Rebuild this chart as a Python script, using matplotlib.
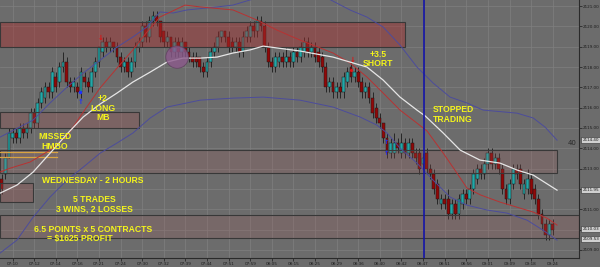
import matplotlib.pyplot as plt
from matplotlib.patches import Rectangle, Ellipse
import numpy as np

# ES 1-min candles, Wednesday session
opens = [2112.50, 2112.75, 2113.50, 2114.50, 2114.75, 2114.50, 2115.00, 2114.75, 2115.00, 2115.75,
         2115.25, 2116.25, 2116.50, 2117.00, 2116.75, 2117.50, 2117.25, 2118.00, 2118.25, 2117.25,
         2117.00, 2117.00, 2116.75, 2117.50, 2117.25, 2117.00, 2117.75, 2118.25, 2118.75, 2119.25,
         2119.00, 2119.25, 2119.00, 2118.50, 2118.00, 2118.25, 2117.75, 2118.25, 2119.00, 2119.25,
         2120.00, 2119.50, 2120.25, 2120.50, 2120.25, 2119.75, 2119.25, 2119.50, 2118.75, 2119.25,
         2118.75, 2119.25, 2118.75, 2118.50, 2118.50, 2118.50, 2118.00, 2117.75, 2118.25, 2118.75,
         2119.00, 2119.50, 2119.75, 2119.50, 2119.25, 2119.00, 2119.25, 2118.75, 2119.50, 2119.50,
         2120.00, 2119.75, 2120.25, 2120.00, 2119.00, 2118.25, 2118.00, 2118.25, 2118.50, 2118.25,
         2118.50, 2118.25, 2118.75, 2118.50, 2118.75, 2119.25, 2118.75, 2119.00, 2118.75, 2118.50,
         2118.00, 2117.00, 2117.25, 2116.75, 2117.00, 2116.75, 2117.25, 2118.00, 2117.50, 2117.75,
         2117.25, 2116.75, 2117.00, 2116.50, 2116.00, 2115.50, 2115.25, 2114.50, 2113.75, 2113.75,
         2114.25, 2113.75, 2114.25, 2113.75, 2114.25, 2113.75, 2113.75, 2113.25, 2113.75, 2113.00,
         2112.75, 2112.25, 2111.25, 2111.50, 2111.50, 2110.75, 2111.25, 2110.75, 2111.25, 2111.75,
         2111.50, 2112.00, 2112.50, 2113.00, 2112.75, 2113.25, 2113.75, 2113.25, 2113.50, 2113.00,
         2112.00, 2111.50, 2112.25, 2113.00, 2113.00, 2111.75, 2112.00, 2112.50, 2112.00, 2111.50,
         2110.75, 2110.25, 2109.75, 2110.25]
closes = [2112.00, 2113.50, 2114.75, 2114.75, 2114.50, 2115.00, 2114.75, 2115.00, 2115.75, 2115.25,
          2116.25, 2116.75, 2117.00, 2116.75, 2117.75, 2117.00, 2118.00, 2118.25, 2117.25, 2117.00,
          2117.25, 2116.75, 2117.75, 2117.25, 2117.00, 2117.75, 2118.25, 2119.00, 2119.25, 2119.00,
          2119.25, 2119.00, 2118.50, 2118.00, 2118.25, 2117.75, 2118.25, 2119.00, 2119.25, 2120.00,
          2119.50, 2120.25, 2120.50, 2120.25, 2119.50, 2119.25, 2119.50, 2118.75, 2119.25, 2118.75,
          2119.25, 2118.75, 2118.50, 2118.25, 2118.25, 2118.00, 2117.75, 2118.25, 2118.75, 2119.00,
          2119.50, 2119.75, 2119.50, 2119.00, 2119.00, 2119.25, 2118.75, 2119.50, 2119.75, 2120.00,
          2119.75, 2120.25, 2120.00, 2119.00, 2118.25, 2118.00, 2118.50, 2118.50, 2118.25, 2118.50,
          2118.25, 2118.75, 2118.50, 2119.00, 2119.25, 2118.75, 2119.00, 2118.50, 2118.25, 2118.00,
          2117.00, 2117.25, 2116.75, 2117.00, 2116.75, 2117.50, 2117.75, 2117.50, 2117.75, 2117.25,
          2116.75, 2117.00, 2116.50, 2115.75, 2115.50, 2115.25, 2114.50, 2113.75, 2114.25, 2114.25,
          2114.00, 2114.25, 2113.75, 2114.25, 2113.75, 2113.50, 2113.00, 2113.50, 2113.00, 2112.75,
          2112.00, 2111.50, 2111.50, 2111.25, 2110.75, 2111.25, 2110.75, 2111.50, 2111.75, 2111.50,
          2112.00, 2112.75, 2113.00, 2112.75, 2113.25, 2113.75, 2113.25, 2113.50, 2113.00, 2112.00,
          2111.50, 2112.25, 2113.00, 2112.75, 2112.25, 2112.25, 2112.50, 2111.75, 2111.50, 2110.75,
          2110.25, 2109.75, 2110.25, 2110.00]
highs = [2112.75, 2113.75, 2115.00, 2115.00, 2115.00, 2115.25, 2115.25, 2115.25, 2116.00, 2116.00,
         2116.50, 2117.00, 2117.25, 2117.25, 2118.00, 2117.75, 2118.25, 2118.75, 2118.50, 2117.50,
         2117.50, 2117.25, 2118.00, 2117.75, 2117.50, 2118.00, 2118.50, 2119.00, 2119.50, 2119.50,
         2119.50, 2119.25, 2119.25, 2118.75, 2118.50, 2118.50, 2118.50, 2119.25, 2119.50, 2120.25,
         2120.25, 2120.50, 2120.75, 2120.75, 2120.25, 2119.75, 2119.75, 2119.50, 2119.50, 2119.50,
         2119.50, 2119.25, 2119.00, 2118.75, 2118.75, 2118.50, 2118.25, 2118.50, 2119.00, 2119.25,
         2119.75, 2119.75, 2119.75, 2119.75, 2119.50, 2119.50, 2119.50, 2119.75, 2120.00, 2120.25,
         2120.25, 2120.50, 2120.50, 2120.25, 2119.25, 2118.50, 2118.75, 2118.75, 2118.75, 2119.00,
         2118.75, 2119.00, 2119.00, 2119.25, 2119.50, 2119.50, 2119.25, 2119.25, 2119.00, 2118.75,
         2118.25, 2117.50, 2117.50, 2117.25, 2117.25, 2117.75, 2118.00, 2118.25, 2118.00, 2118.00,
         2117.50, 2117.25, 2117.25, 2116.75, 2116.25, 2115.75, 2115.25, 2114.75, 2114.50, 2114.75,
         2114.50, 2114.75, 2114.50, 2114.50, 2114.50, 2114.00, 2114.00, 2113.75, 2114.00, 2113.25,
         2113.00, 2112.50, 2111.75, 2111.75, 2112.00, 2111.50, 2111.50, 2111.75, 2112.00, 2112.00,
         2112.25, 2113.00, 2113.25, 2113.25, 2113.50, 2114.00, 2114.00, 2113.75, 2113.75, 2113.25,
         2112.25, 2112.50, 2113.25, 2113.25, 2113.25, 2112.50, 2113.00, 2112.75, 2112.25, 2111.75,
         2111.00, 2110.50, 2110.50, 2110.50]
lows = [2111.75, 2112.50, 2113.50, 2114.25, 2114.25, 2114.25, 2114.50, 2114.50, 2114.75, 2115.00,
        2115.00, 2116.00, 2116.25, 2116.50, 2116.50, 2116.75, 2117.00, 2117.75, 2117.00, 2116.75,
        2116.75, 2116.50, 2116.50, 2117.00, 2116.75, 2116.75, 2117.50, 2118.00, 2118.50, 2118.75,
        2118.75, 2118.75, 2118.25, 2117.75, 2117.75, 2117.50, 2117.50, 2118.00, 2118.75, 2119.00,
        2119.25, 2119.25, 2120.00, 2120.00, 2119.25, 2119.00, 2119.00, 2118.50, 2118.50, 2118.50,
        2118.50, 2118.50, 2118.25, 2118.00, 2118.00, 2117.75, 2117.50, 2117.50, 2118.00, 2118.50,
        2118.75, 2119.25, 2119.25, 2118.75, 2118.75, 2118.75, 2118.50, 2118.50, 2119.25, 2119.25,
        2119.50, 2119.50, 2119.75, 2118.75, 2118.00, 2117.75, 2117.75, 2118.00, 2118.00, 2118.00,
        2118.00, 2118.00, 2118.25, 2118.25, 2118.50, 2118.50, 2118.50, 2118.25, 2118.00, 2117.75,
        2116.75, 2116.75, 2116.50, 2116.50, 2116.50, 2116.50, 2117.00, 2117.25, 2117.25, 2117.00,
        2116.50, 2116.50, 2116.25, 2115.50, 2115.25, 2115.00, 2114.25, 2113.50, 2113.50, 2113.50,
        2113.75, 2113.50, 2113.50, 2113.50, 2113.50, 2113.25, 2112.75, 2113.00, 2112.75, 2112.50,
        2111.75, 2111.25, 2111.00, 2111.00, 2110.50, 2110.50, 2110.50, 2110.50, 2111.00, 2111.25,
        2111.25, 2111.75, 2112.25, 2112.50, 2112.50, 2113.00, 2113.00, 2113.00, 2112.75, 2111.75,
        2111.25, 2111.25, 2112.00, 2112.50, 2112.00, 2111.50, 2111.75, 2111.50, 2111.25, 2110.50,
        2110.00, 2109.50, 2109.50, 2109.75]

time_labels = ["07:10", "07:12", "07:14", "07:16", "07:21", "07:24", "07:30", "07:32", "07:39",
               "07:44", "07:51", "07:59", "08:05", "08:15", "08:25", "08:29", "08:36", "08:40",
               "08:42", "08:47", "08:51", "08:56", "09:01", "09:09", "09:18", "09:24"]

# indicator lines (bar index, price)
white_x = [-0.5, 4.2, 8.7, 13.4, 18.1, 22.6, 27.3, 32.0, 36.4, 41.2, 45.9, 50.3, 55.1, 59.8, 64.2,
           68.9, 72.6, 76.4, 82.8, 92.0, 101.4, 105.9, 110.6, 115.3, 117.6, 122.6, 127.3, 132.8,
           138.4, 143.1, 147.6, 154.2]
white_y = [2111.79, 2112.19, 2112.83, 2113.76, 2114.70, 2115.54, 2116.18, 2116.72, 2117.26, 2117.75,
           2118.25, 2118.44, 2118.44, 2118.49, 2118.69, 2118.84, 2119.03, 2118.94, 2118.79, 2118.49,
           2118.00, 2117.36, 2116.52, 2115.88, 2115.59, 2114.75, 2113.91, 2113.42, 2113.27, 2112.93,
           2112.68, 2111.94]
red_x = [-0.5, 2.3, 7.8, 13.4, 18.1, 22.6, 27.3, 32.0, 36.4, 40.3, 43.9, 50.9, 55.1, 64.2, 70.9,
         76.4, 82.8, 92.0, 96.7, 101.4, 105.9, 110.6, 115.3, 118.1, 122.6, 126.4, 129.2, 133.0,
         138.4, 143.1, 147.6, 151.4, 154.2]
red_y = [2112.83, 2113.02, 2113.32, 2113.91, 2114.60, 2115.78, 2116.97, 2117.95, 2118.84, 2119.72,
         2120.46, 2121.05, 2120.96, 2120.81, 2120.31, 2119.82, 2119.33, 2118.69, 2118.20, 2117.51,
         2116.72, 2115.88, 2115.24, 2114.85, 2113.76, 2112.78, 2112.04, 2111.70, 2111.35, 2111.10,
         2110.86, 2110.56, 2110.22]
upper_x = [-0.5, 8.7, 13.4, 18.1, 22.6, 27.3, 32.0, 36.4, 40.3, 43.9, 47.6, 51.4, 59.8, 64.2, 68.9,
           74.5, 82.8, 90.3, 96.7, 101.4, 105.9, 110.6, 115.3, 119.8, 124.5, 129.2, 133.7, 143.1,
           147.6, 150.9, 154.2]
upper_y = [2114.55, 2115.39, 2116.23, 2117.01, 2117.70, 2118.34, 2118.98, 2119.48, 2119.97, 2120.71,
           2120.66, 2120.81, 2120.96, 2121.05, 2121.30, 2121.55, 2121.69, 2121.40, 2120.81, 2120.46,
           2119.97, 2119.08, 2118.00, 2117.21, 2116.52, 2116.23, 2115.88, 2115.73, 2115.49, 2115.04,
           2114.40]
lower_x = [-0.5, 4.2, 8.7, 13.4, 18.1, 22.6, 27.3, 32.0, 36.4, 41.2, 45.9, 55.1, 64.2, 72.6, 82.8,
           92.0, 99.5, 104.2, 107.0, 110.6, 115.3, 119.8, 124.5, 129.2, 134.8, 140.3, 145.9, 150.3,
           154.2]
lower_y = [2108.84, 2109.48, 2110.61, 2111.60, 2112.43, 2113.07, 2113.76, 2114.26, 2114.75, 2115.49,
           2116.03, 2116.37, 2116.47, 2116.52, 2116.37, 2116.03, 2115.54, 2115.14, 2114.75, 2114.01,
           2113.27, 2112.43, 2111.60, 2111.20, 2110.96, 2110.81, 2110.46, 2109.97, 2109.48]

# supply / demand zones: start bar, end bar, low, high
zone_start = [-0.5, -0.5, -0.5, -0.5, -0.5]
zone_end = [112.0, 38.1, 154.2, 8.7, 160.3]
zone_lo = [2118.98, 2114.99, 2112.78, 2111.35, 2109.58]
zone_hi = [2120.22, 2115.78, 2113.91, 2112.29, 2110.71]

hmbo_levels = [2113.81, 2113.57]
stop_bar = 117.3
end_values = [2114.40, 2111.95, 2110.03, 2109.53]

BG = '#6c6c6c'
YEL = '#f4f41c'

fig = plt.figure(figsize=(6, 2.67), dpi=100, facecolor=BG)
ax = fig.add_axes([0, 9 / 267, 579 / 600, 258 / 267])
ax.set_facecolor(BG)
ax.set_xlim(-0.5, 160.3)
ax.set_ylim(2108.6, 2121.3)

bar_x = np.arange(len(opens))
o = np.array(opens)
c = np.array(closes)
up = c >= o
body_lo = np.minimum(o, c)
body_h = np.maximum(np.abs(c - o), 0.06)
ax.vlines(bar_x, lows, highs, color='#262626', lw=0.7, zorder=3)
ax.bar(bar_x, body_h, bottom=body_lo, width=0.78,
       color=np.where(up, '#22a8a8', '#900808'), edgecolor='#1a1a1a', lw=0.35, zorder=4)

# zones drawn over the candles, semi transparent
zone_col = ['#a83030', '#a05050', '#a05a5a', '#a05050', '#a05a5a']
zone_alpha = [0.45, 0.3, 0.22, 0.3, 0.22]
for s, e, lo, hi, fc, a in zip(zone_start, zone_end, zone_lo, zone_hi, zone_col, zone_alpha):
    ax.add_patch(Rectangle((s, lo), e - s, hi - lo, facecolor=fc, alpha=a, edgecolor='none', zorder=5))
    ax.add_patch(Rectangle((s, lo), e - s, hi - lo, facecolor='none', edgecolor='#383838', lw=0.8, zorder=5))

for lv in hmbo_levels:
    ax.plot([-0.5, 15.3], [lv, lv], color='#d9a441', lw=0.9, zorder=6)

ax.plot(upper_x, upper_y, color='#4c4c9c', lw=0.7, zorder=6)
ax.plot(lower_x, lower_y, color='#4c4c9c', lw=0.7, zorder=6)
ax.plot(red_x, red_y, color='#b83232', lw=0.7, zorder=6)
ax.plot(white_x, white_y, color='#e6e6e6', lw=0.9, zorder=6)

ax.add_patch(Ellipse((48.7, 2118.49), 6.3, 1.1, facecolor='#8c5a8c', alpha=0.8,
                     edgecolor='#5e3e5e', lw=0.6, zorder=7))

ax.axvline(stop_bar, color='#1414a6', lw=1.2, zorder=7)

# trade signals
ax.text(27.5, 2119.45, '\u2193', color='#e01010', fontsize=5, fontweight='bold', ha='center', va='center', zorder=8)
ax.plot(21.7, 2116.77, 'o', color='#2030ff', ms=1.5, zorder=8)
ax.text(22.0, 2116.3, '\u2191', color='#2030ff', fontsize=5, fontweight='bold', ha='center', va='center', zorder=8)
ax.text(97.3, 2118.35, '\u2193', color='#e01010', fontsize=5, fontweight='bold', ha='center', va='center', zorder=8)
ax.plot(96.9, 2117.85, 'o', color='#e01010', ms=1.2, zorder=8)
ax.text(106.7, 2114.3, '\u2191', color='#2030ff', fontsize=4.5, fontweight='bold', ha='center', va='center', zorder=8)
ax.text(106.7, 2113.75, '\u2191', color='#2030ff', fontsize=4.5, fontweight='bold', ha='center', va='center', zorder=8)

tk = dict(color=YEL, fontsize=6.2, fontweight='bold', family='Liberation Sans',
          ha='center', va='center', linespacing=1.05, zorder=9)
ax.text(28.1, 2115.98, '+2\nLONG\nMB', **tk)
ax.text(14.8, 2114.33, 'MISSED\nHMBO', **tk)
ax.text(104.5, 2118.4, '+3.5\nSHORT', **tk)
ax.text(125.3, 2115.66, 'STOPPED\nTRADING', **tk)
ax.text(25.3, 2112.43, 'WEDNESDAY - 2 HOURS', **tk)
ax.text(25.6, 2111.23, '5 TRADES\n3 WINS, 2 LOSSES', **tk)
ax.text(25.3, 2110.02, '6.5 POINTS x 5 CONTRACTS', **tk)
ax.text(21.7, 2109.58, '= $1625 PROFIT', **tk)

ax.text(158.4, 2114.26, '40', color='#2a2a2a', fontsize=5, ha='center', va='center')

# axes: price on the right, time at the bottom
ax.yaxis.tick_right()
prices = np.arange(2109, 2122)
ax.set_yticks(prices)
ax.set_yticklabels([f'{p:.2f}' for p in prices])
ax.set_xticks(np.arange(3, len(opens), 6))
ax.set_xticklabels(time_labels)
ax.tick_params(axis='both', labelsize=3, colors='#1c1c1c', length=2, width=0.5, pad=1)
ax.grid(color='#808080', lw=0.5, zorder=0)
ax.set_axisbelow(True)
for sp in ['top', 'left']:
    ax.spines[sp].set_visible(False)
for sp in ['right', 'bottom']:
    ax.spines[sp].set_color('#2a2a2a')
    ax.spines[sp].set_linewidth(0.8)

for v in end_values:
    ax.text(1.006, v, f'{v:.2f}', transform=ax.get_yaxis_transform(), fontsize=3, color='#1c1c1c',
            va='center', ha='left', clip_on=False,
            bbox=dict(boxstyle='square,pad=0.25', facecolor='#d0d0d0', edgecolor='#303030', lw=0.4))

fig.savefig('out.png', dpi=100, facecolor=BG)
